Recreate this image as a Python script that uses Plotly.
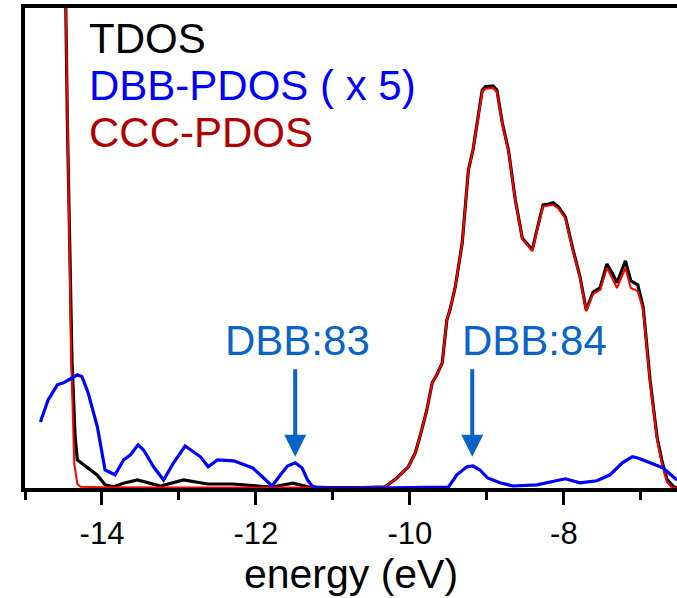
import plotly.graph_objects as go

# ---------------- data ----------------
tdos_e = [-15.0, -14.75, -14.6, -14.52, -14.47, -14.45, -14.39, -14.35, -14.32, -14.19, -14.06,
          -13.96, -13.85, -13.72, -13.54, -13.24, -12.94, -12.63, -12.30, -11.98, -11.81,
          -11.52, -11.30, -11.04, -10.60, -10.32, -10.17, -10.02, -9.93, -9.87, -9.78, -9.71,
          -9.65, -9.58, -9.52, -9.48, -9.41, -9.32, -9.24, -9.18, -9.06, -9.02, -8.92, -8.87,
          -8.80, -8.72, -8.63, -8.54, -8.50, -8.41, -8.35, -8.27, -8.20, -8.14, -8.07, -7.98,
          -7.88, -7.79, -7.71, -7.62, -7.53, -7.44, -7.36, -7.31, -7.20, -7.13, -7.04, -6.97,
          -6.88, -6.79, -6.72, -6.66, -6.58, -6.53]
tdos_v = [45, 70, 40, 18, 12.0, 9.2, 3.2, 1.3, 0.7, 0.52, 0.32,
          0.08, 0.03, 0.12, 0.2, 0.05, 0.2, 0.1, 0.1, 0.05, 0.02,
          0.12, 0.02, 0.01, 0.01, 0.03, 0.25, 0.53, 0.88, 1.28, 1.95, 2.63,
          2.83, 3.13, 4.2, 4.45, 5.03, 6.13, 7.95, 8.45, 9.95, 10.03, 10.05, 9.95,
          9.13, 8.45, 7.2, 6.25, 6.15, 5.95, 6.45, 7.08, 7.1, 7.13, 7.03, 6.78,
          5.95, 5.28, 4.45, 4.9, 5.0, 5.6, 5.33, 5.13, 5.68, 5.18, 5.08, 4.53,
          2.7, 1.28, 0.63, 0.22, 0.04, 0.0]

ccc_e = [-15.0, -14.75, -14.6, -14.52, -14.47, -14.45, -14.40, -14.36, -14.32, -14.28, -14.0,
         -13.0, -12.0, -11.0, -10.6, -10.32, -10.17, -10.02, -9.93, -9.87, -9.78, -9.71,
         -9.65, -9.58, -9.52, -9.48, -9.41, -9.32, -9.24, -9.18, -9.06, -9.02, -8.92, -8.87,
         -8.80, -8.72, -8.63, -8.54, -8.50, -8.41, -8.35, -8.27, -8.20, -8.14, -8.07, -7.98,
         -7.88, -7.79, -7.71, -7.62, -7.53, -7.44, -7.36, -7.31, -7.20, -7.13, -7.04, -6.97,
         -6.88, -6.79, -6.72, -6.66, -6.60, -6.53]
ccc_v = [45, 70, 40, 18, 12.0, 9.2, 3.2, 0.6, 0.1, 0.03, 0.02,
         0.01, 0.01, 0.01, 0.01, 0.03, 0.25, 0.53, 0.88, 1.28, 1.95, 2.63,
         2.83, 3.13, 4.2, 4.45, 5.03, 6.13, 7.95, 8.45, 9.9, 9.98, 10.0, 9.9,
         9.1, 8.42, 7.18, 6.22, 6.12, 5.92, 6.42, 7.04, 7.06, 7.08, 6.98, 6.74,
         5.92, 5.25, 4.42, 4.85, 4.95, 5.5, 5.2, 5.0, 5.5, 5.0, 4.92, 4.45,
         2.65, 1.22, 0.55, 0.15, 0.02, 0.0]

dbb_e = [-14.80, -14.70, -14.58, -14.50, -14.39, -14.32, -14.26, -14.18, -14.06, -13.96, -13.83,
         -13.72, -13.63, -13.53, -13.46, -13.33, -13.20, -13.07, -12.92, -12.81, -12.72, -12.62,
         -12.50, -12.29, -12.11, -12.04, -11.90, -11.79, -11.68, -11.59, -11.49, -11.40, -11.33,
         -11.27, -11.20, -10.5, -9.50, -9.39, -9.26, -9.18, -9.09, -8.99, -8.83, -8.66, -8.35,
         -8.09, -7.98, -7.79, -7.57, -7.40, -7.24, -7.11, -7.04, -6.88, -6.71, -6.53]
dbb_v = [1.65, 2.2, 2.58, 2.63, 2.75, 2.83, 2.78, 2.38, 1.53, 0.45, 0.33,
         0.7, 0.83, 1.08, 0.95, 0.53, 0.2, 0.63, 1.05, 0.9, 0.78, 0.53,
         0.7, 0.68, 0.55, 0.5, 0.25, 0.05, 0.33, 0.55, 0.63, 0.5, 0.2,
         0.05, 0.0, 0.0, 0.02, 0.33, 0.53, 0.55, 0.45, 0.25, 0.13, 0.05, 0.08,
         0.18, 0.23, 0.13, 0.18, 0.33, 0.63, 0.78, 0.75, 0.63, 0.5, 0.2]

tick_vals = [-14, -12, -10, -8]
tick_text = ["-14", "-12", "-10", "-8"]

legend_labels = ["TDOS", "DBB-PDOS ( x 5)", "CCC-PDOS"]
legend_colors = ["#000000", "#0000FF", "#B00000"]

peak_labels = ["DBB:83", "DBB:84"]
peak_e = [-11.49, -9.19]
peak_tip = [0.78, 0.78]
label_shift = [2, 62]

FONT = "Liberation Sans, Arial, sans-serif"
ANNO_BLUE = "#0A64C8"

fig = go.Figure()
fig.add_trace(go.Scatter(x=tdos_e, y=tdos_v, mode="lines",
                         line=dict(color="black", width=3.2), showlegend=False))
fig.add_trace(go.Scatter(x=ccc_e, y=ccc_v, mode="lines",
                         line=dict(color="#FF0000", width=2), showlegend=False))
fig.add_trace(go.Scatter(x=dbb_e, y=dbb_v, mode="lines",
                         line=dict(color="#0000FF", width=3.2), showlegend=False))

annos = []
for i, (lab, col) in enumerate(zip(legend_labels, legend_colors)):
    annos.append(dict(xref="paper", yref="paper", x=0.095, y=0.937 - i * 0.098,
                      xanchor="left", yanchor="middle", text=lab, showarrow=False,
                      font=dict(family=FONT, size=42, color=col)))
for lab, e, tip, sh in zip(peak_labels, peak_e, peak_tip, label_shift):
    annos.append(dict(x=e, y=tip, xref="x", yref="y", text="", showarrow=True,
                      ax=0, ay=-89, arrowhead=2, arrowsize=1.1, arrowwidth=4,
                      arrowcolor=ANNO_BLUE, standoff=0))
    annos.append(dict(x=e, y=tip, xref="x", yref="y", text=lab, showarrow=False,
                      yshift=116, xshift=sh,
                      font=dict(family=FONT, size=42, color=ANNO_BLUE)))

fig.update_layout(
    width=677, height=598, autosize=False,
    margin=dict(l=25, r=0, t=8, b=110),
    plot_bgcolor="white", paper_bgcolor="white",
    annotations=annos,
    xaxis=dict(range=[-15.0, -6.53], showgrid=False, zeroline=False,
               showline=True, linecolor="black", linewidth=4, mirror=True,
               ticks="outside", ticklen=13, tickwidth=3, tickcolor="black",
               tickvals=tick_vals, ticktext=tick_text, ticklabelstandoff=2,
               minor=dict(dtick=1, tick0=-15, ticks="outside", ticklen=8,
                          tickwidth=3, tickcolor="black"),
               tickfont=dict(family=FONT, size=31, color="black"),
               title=dict(text="energy (eV)", standoff=10,
                          font=dict(family=FONT, size=41, color="black"))),
    yaxis=dict(range=[0, 12], showgrid=False, zeroline=False, showline=True,
               linecolor="black", linewidth=4, showticklabels=False, ticks=""),
)
fig.write_html("out.html")
